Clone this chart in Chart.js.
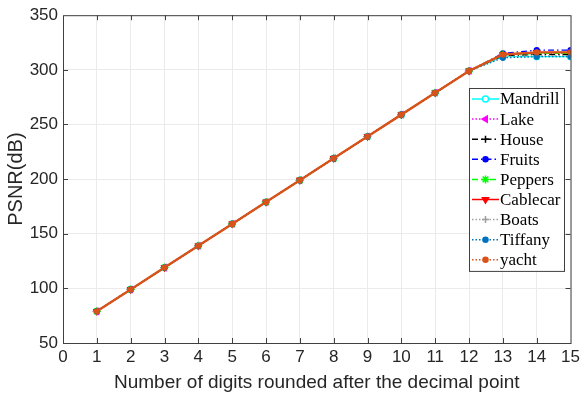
<!DOCTYPE html>
<html>
<head>
<meta charset="utf-8">
<script src="https://cdn.jsdelivr.net/npm/chart.js@4"></script>
<style>
  html, body { margin: 0; padding: 0; background: #fff; }
  #wrap { width: 584px; height: 398px; }
</style>
</head>
<body>
<div id="wrap"><canvas id="psnrChart" width="584" height="398"></canvas></div>
<script>
const digits = [1, 2, 3, 4, 5, 6, 7, 8, 9, 10, 11, 12, 13, 14, 15];
const yTicks = [50, 100, 150, 200, 250, 300, 350];

const mandrill = [79, 99, 119, 139, 159, 179, 199, 219, 239, 259, 279, 299, 312, 312, 312];
const lake     = [79, 99, 119, 139, 159, 179, 199, 219, 239, 259, 279, 299, 314, 315, 315];
const house    = [79, 99, 119, 139, 159, 179, 199, 219, 239, 259, 279, 299, 313, 314, 314];
const fruits   = [79, 99, 119, 139, 159, 179, 199, 219, 239, 259, 279, 299, 315, 318, 318];
const peppers  = [79, 99, 119, 139, 159, 179, 199, 219, 239, 259, 279, 299, 314, 315, 315];
const cablecar = [79, 99, 119, 139, 159, 179, 199, 219, 239, 259, 279, 299, 314, 316, 316];
const boats    = [79, 99, 119, 139, 159, 179, 199, 219, 239, 259, 279, 299, 312, 313, 313];
const tiffany  = [79, 99, 119, 139, 159, 179, 199, 219, 239, 259, 279, 299, 311, 312, 312];
const yacht    = [79, 99, 119, 139, 159, 179, 199, 219, 239, 259, 279, 299, 314, 316, 316];

const series = [
  { label: "Mandrill", data: mandrill, color: "#00ffff", dash: [], point: "circle", rot: 0, fill: "#ffffff", r: 3 },
  { label: "Lake", data: lake, color: "#ff00ff", dash: [1.5, 2], point: "triangle", rot: -90, fill: "#ff00ff", r: 3.5 },
  { label: "House", data: house, color: "#000000", dash: [6, 3, 1.5, 3], point: "cross", rot: 0, fill: "#000000", r: 3.5 },
  { label: "Fruits", data: fruits, color: "#0000ff", dash: [6, 3, 1.5, 3], point: "circle", rot: 0, fill: "#0000ff", r: 2.5 },
  { label: "Peppers", data: peppers, color: "#00ff00", dash: [6, 3], point: "star", rot: 0, fill: "#00ff00", r: 4 },
  { label: "Cablecar", data: cablecar, color: "#ff0000", dash: [], point: "triangle", rot: 180, fill: "#ff0000", r: 3.5 },
  { label: "Boats", data: boats, color: "#a0a0a0", dash: [1.5, 2], point: "cross", rot: 0, fill: "#a0a0a0", r: 3.5 },
  { label: "Tiffany", data: tiffany, color: "#0072bd", dash: [1.5, 2], point: "circle", rot: 0, fill: "#0072bd", r: 2.5 },
  { label: "yacht", data: yacht, color: "#d95319", dash: [1.5, 2], point: "circle", rot: 0, fill: "#d95319", r: 2.5 }
];

// matlab style box, inward ticks, and legend inside the plot
const boxPlugin = {
  id: "boxPlugin",
  afterDraw(chart) {
    const { ctx, chartArea: a, scales } = chart;
    ctx.save();
    ctx.strokeStyle = "#404040";
    ctx.lineWidth = 1;
    ctx.strokeRect(a.left + 0.5, a.top + 0.5, a.right - a.left, a.bottom - a.top);
    ctx.beginPath();
    for (let v = 1; v < 15; v++) {
      const x = Math.round(scales.x.getPixelForValue(v)) + 0.5;
      ctx.moveTo(x, a.bottom); ctx.lineTo(x, a.bottom - 5);
      ctx.moveTo(x, a.top); ctx.lineTo(x, a.top + 5);
    }
    yTicks.slice(1, -1).forEach(v => {
      const y = Math.round(scales.y.getPixelForValue(v)) + 0.5;
      ctx.moveTo(a.left, y); ctx.lineTo(a.left + 5, y);
      ctx.moveTo(a.right, y); ctx.lineTo(a.right - 5, y);
    });
    ctx.stroke();

    // legend
    const bx = 469, by = 88, bw = 95, rowH = 20.1;
    const bh = series.length * rowH + 2;
    ctx.fillStyle = "#ffffff";
    ctx.fillRect(bx, by, bw, bh);
    ctx.strokeStyle = "#404040";
    ctx.strokeRect(bx + 0.5, by + 0.5, bw, bh);
    ctx.font = "17px 'Liberation Serif'";
    ctx.textBaseline = "middle";
    series.forEach((s, i) => {
      const y = by + 11 + i * rowH;
      ctx.strokeStyle = s.color;
      ctx.lineWidth = 1.5;
      ctx.setLineDash(s.dash);
      ctx.beginPath();
      ctx.moveTo(bx + 3, y); ctx.lineTo(bx + 30, y);
      ctx.stroke();
      ctx.setLineDash([]);
      ctx.fillStyle = s.fill;
      Chart.helpers.drawPoint(ctx, {
        pointStyle: s.point, rotation: s.rot, radius: s.r, borderWidth: 1.2
      }, bx + 16.5, y);
      ctx.fillStyle = "#000000";
      ctx.fillText(s.label, bx + 31, y + 1);
    });
    ctx.restore();
  }
};

// first dataset is painted on top, so reverse to keep yacht uppermost
const datasets = series.slice().reverse().map(s => ({
  label: s.label,
  data: s.data,
  borderColor: s.color,
  backgroundColor: s.fill,
  borderWidth: s.label === "yacht" ? 2.4 : 1.3,
  // the overlapping yacht trace reads as a near-solid orange line
  borderDash: s.label === "yacht" ? [] : s.dash,
  pointStyle: s.point,
  rotation: s.rot,
  pointRadius: s.r,
  pointBorderColor: s.color,
  pointBackgroundColor: s.fill,
  pointBorderWidth: 1.2,
  tension: 0
}));

new Chart(document.getElementById("psnrChart"), {
  type: "line",
  data: { labels: digits, datasets: datasets },
  options: {
    responsive: false,
    animation: false,
    layout: { padding: { top: 15, right: 12, left: 0, bottom: 0 } },
    plugins: { legend: { display: false }, tooltip: { enabled: false } },
    scales: {
      x: {
        type: "linear",
        min: 0,
        max: 15,
        ticks: { stepSize: 1, color: "#262626", font: { family: "Liberation Sans", size: 17 }, padding: 4, maxRotation: 0 },
        grid: { color: "#ebebeb", drawTicks: false },
        border: { display: false },
        title: { display: true, text: "Number of digits rounded after the decimal point", color: "#262626", font: { family: "Liberation Sans", size: 19 }, padding: { top: 4 } },
        afterFit: s => { s.height = 55; }
      },
      y: {
        min: 50,
        max: 350,
        ticks: { stepSize: 50, color: "#262626", font: { family: "Liberation Sans", size: 17 }, padding: 5 },
        grid: { color: "#ebebeb", drawTicks: false },
        border: { display: false },
        title: { display: true, text: "PSNR(dB)", color: "#262626", font: { family: "Liberation Sans", size: 20 }, padding: { bottom: 2 } },
        afterFit: s => { s.width = 63; }
      }
    }
  },
  plugins: [boxPlugin]
});
</script>
</body>
</html>
